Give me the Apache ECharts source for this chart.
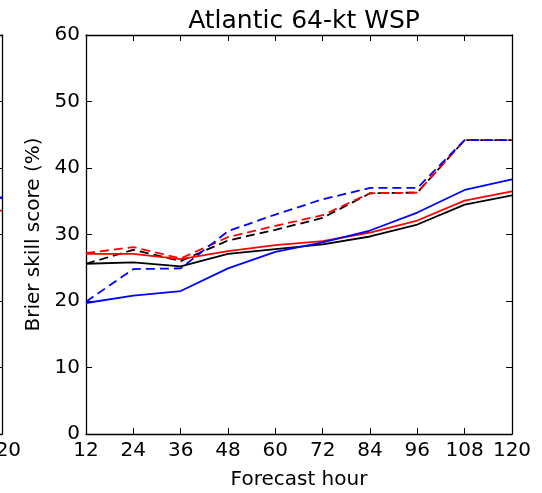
<!DOCTYPE html>
<html>
<head>
<meta charset="utf-8">
<script src="https://cdn.jsdelivr.net/npm/echarts@6/dist/echarts.min.js"></script>
<style>html,body{margin:0;padding:0;background:#fff}#c{width:542px;height:493px}</style>
</head>
<body>
<div id="c"></div>
<script>
var hours = [12, 24, 36, 48, 60, 72, 84, 96, 108, 120];
var xTicks = [12, 24, 36, 48, 60, 72, 84, 96, 108, 120];
var yTicks = [0, 10, 20, 30, 40, 50, 60];
var blackSolid  = [25.6, 25.8, 25.2, 27.1, 27.8, 28.5, 29.7, 31.5, 34.5, 35.9];
var blackDashed = [25.6, 27.7, 26.0, 29.1, 30.7, 32.5, 36.2, 36.3, 44.2, 44.2];
var redSolid    = [27.1, 27.1, 26.3, 27.5, 28.4, 29.0, 30.3, 32.1, 35.1, 36.5];
var redDashed   = [27.2, 28.1, 26.4, 29.6, 31.3, 32.9, 36.2, 36.3, 44.2, 44.2];
var blueSolid   = [19.7, 20.8, 21.5, 24.9, 27.4, 28.8, 30.6, 33.3, 36.7, 38.3];
var blueDashed  = [19.9, 24.8, 24.9, 30.5, 33.0, 35.3, 37.0, 37.0, 44.2, 44.2];
// neighbouring panel (only its right edge is visible)
var leftHours = [108, 120];
var leftBlue  = [35.0, 35.6];
var leftRed   = [33.5, 33.6];

var FONT = 'DejaVu Sans';
function pairs(xs, ys){ return xs.map(function(x,i){ return [x, ys[i]]; }); }
function axisX(gi, pos, showLabel){
  return {type:'value', gridIndex:gi, position:pos, min:12, max:120, interval:12,
    axisLine:{show:true, onZero:false, lineStyle:{color:'#000', width:1.3}},
    axisTick:{show:true, inside:true, length:6, lineStyle:{color:'#000'}},
    axisLabel:{show:showLabel, color:'#000', fontFamily:FONT, fontSize:20, margin:7},
    splitLine:{show:false}};
}
function axisY(gi, pos, showLabel){
  return {type:'value', gridIndex:gi, position:pos, min:0, max:60, interval:10,
    axisLine:{show:true, onZero:false, lineStyle:{color:'#000', width:1.3}},
    axisTick:{show:true, inside:true, length:6, lineStyle:{color:'#000'}},
    axisLabel:{show:showLabel, color:'#000', fontFamily:FONT, fontSize:20, margin:6},
    splitLine:{show:false}};
}
function line(name, data, color, dashed, xi, yi){
  return {name:name, type:'line', xAxisIndex:xi, yAxisIndex:yi, data:data, symbol:'none',
    animation:false, lineStyle:{color:color, width:1.8, type: dashed ? [9,5] : 'solid'}, z:3};
}
var xa0 = axisX(0,'bottom',true);
xa0.name = 'Forecast hour'; xa0.nameLocation = 'middle'; xa0.nameGap = 36;
xa0.nameTextStyle = {color:'#000', fontFamily:FONT, fontSize:20};
var ya0 = axisY(0,'left',true);
ya0.name = 'Brier skill score (%)'; ya0.nameLocation = 'middle'; ya0.nameGap = 42;
ya0.nameTextStyle = {color:'#000', fontFamily:FONT, fontSize:20};

var option = {
  animation:false,
  backgroundColor:'#fff',
  title:{text:'Atlantic 64-kt WSP', left:299, textAlign:'center', top:4,
    textStyle:{color:'#000', fontFamily:FONT, fontSize:25, fontWeight:'normal'}},
  grid:[
    {left:86, right:30, top:35, bottom:59, outerBoundsMode:'none'},
    {left:-424, width:426, top:35, bottom:59, outerBoundsMode:'none'}
  ],
  xAxis:[xa0, axisX(0,'top',false), axisX(1,'bottom',true), axisX(1,'top',false)],
  yAxis:[ya0, axisY(0,'right',false), axisY(1,'left',false), axisY(1,'right',false)],
  series:[
    line('black solid', pairs(hours, blackSolid), '#000000', false, 0, 0),
    line('black dashed', pairs(hours, blackDashed), '#000000', true, 0, 0),
    line('red solid', pairs(hours, redSolid), '#ff0000', false, 0, 0),
    line('red dashed', pairs(hours, redDashed), '#ff0000', true, 0, 0),
    line('blue solid', pairs(hours, blueSolid), '#0000ff', false, 0, 0),
    line('blue dashed', pairs(hours, blueDashed), '#0000ff', true, 0, 0),
    line('left blue', pairs(leftHours, leftBlue), '#0000ff', false, 2, 2),
    line('left red', pairs(leftHours, leftRed), '#ff0000', false, 2, 2)
  ]
};
var chart = echarts.init(document.getElementById('c'), null, {renderer:'canvas'});
chart.setOption(option);
</script>
</body>
</html>
